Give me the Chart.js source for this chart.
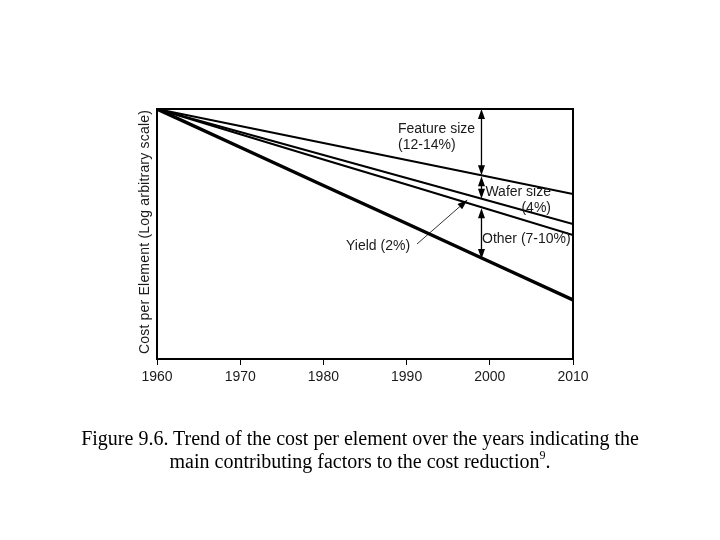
<!DOCTYPE html>
<html>
<head>
<meta charset="utf-8">
<script src="https://cdn.jsdelivr.net/npm/chart.js@4/dist/chart.umd.min.js"></script>
<style>
  html, body { margin: 0; padding: 0; background: #fff; }
  #wrap { position: relative; width: 720px; height: 540px; }
  #c { position: absolute; left: 0; top: 0; }
  .cap { position: absolute; left: 0; width: 720px; text-align: center;
         font-family: "Liberation Serif", "Times New Roman", serif; font-size: 20px; color: #000; }
  .cap sup { font-size: 12px; vertical-align: top; position: relative; top: -2px; }
</style>
</head>
<body>
<div id="wrap">
  <canvas id="c" width="720" height="540"></canvas>
  <div class="cap" style="top:427px;">Figure 9.6. Trend of the cost per element over the years indicating the</div>
  <div class="cap" style="top:450px;">main contributing factors to the cost reduction<sup>9</sup>.</div>
</div>
<script>
// Data (arbitrary log-scale units, 100 = 1960 level)
const years = [1960, 1970, 1980, 1990, 2000, 2010];
const featureSize = [100, 93.2, 86.4, 79.6, 72.8, 66];
const featureWafer = [100, 90.8, 81.6, 72.4, 63.2, 54];
const featureWaferYield = [100, 89.9, 79.8, 69.8, 59.7, 49.6];
const allFactors = [100, 84.7, 69.4, 54.2, 38.9, 23.6];
const xTicks = [1960, 1970, 1980, 1990, 2000, 2010];
const yTitle = "Cost per Element (Log arbitrary scale)";

function pts(arr) { return years.map((y, i) => ({ x: y, y: arr[i] })); }
function valAt(arr, yr) {
  for (let i = 0; i < years.length - 1; i++) {
    if (yr >= years[i] && yr <= years[i + 1]) {
      const t = (yr - years[i]) / (years[i + 1] - years[i]);
      return arr[i] + t * (arr[i + 1] - arr[i]);
    }
  }
  return arr[arr.length - 1];
}

const FONT = '"Liberation Sans", Arial, sans-serif';
const TXT = '#1a1a1a';

function arrowHead(ctx, x, y, angle, len, w) {
  ctx.save();
  ctx.translate(x, y);
  ctx.rotate(angle);
  ctx.beginPath();
  ctx.moveTo(0, 0);
  ctx.lineTo(-len, -w);
  ctx.lineTo(-len, w);
  ctx.closePath();
  ctx.fill();
  ctx.restore();
}
function dblArrow(ctx, x, y1, y2) {
  ctx.beginPath();
  ctx.moveTo(x, y1 + 4);
  ctx.lineTo(x, y2 - 4);
  ctx.stroke();
  arrowHead(ctx, x, y1, -Math.PI / 2, 10, 3.5);
  arrowHead(ctx, x, y2, Math.PI / 2, 10, 3.5);
}

const annot = {
  id: 'annot',
  afterDatasetsDraw(chart) {
    const { ctx, chartArea: a, scales: { x, y } } = chart;
    ctx.save();
    // frame
    ctx.strokeStyle = '#000';
    ctx.lineWidth = 2;
    ctx.strokeRect(a.left, a.top, a.right - a.left, a.bottom - a.top);

    // arrows at 1999
    const ax = x.getPixelForValue(1999);
    ctx.fillStyle = '#000';
    ctx.lineWidth = 1.3;
    dblArrow(ctx, ax, a.top, y.getPixelForValue(valAt(featureSize, 1999)));
    dblArrow(ctx, ax, y.getPixelForValue(valAt(featureSize, 1999)) + 1, y.getPixelForValue(valAt(featureWafer, 1999)));
    dblArrow(ctx, ax, y.getPixelForValue(valAt(featureWaferYield, 1999)) + 1, y.getPixelForValue(valAt(allFactors, 1999)) + 1);

    // yield pointer
    const x1 = x.getPixelForValue(1991.25), y1 = y.getPixelForValue(46);
    const x2 = x.getPixelForValue(1997.3), y2 = y.getPixelForValue(63.6);
    ctx.lineWidth = 0.8;
    ctx.beginPath();
    ctx.moveTo(x1, y1);
    ctx.lineTo(x2, y2);
    ctx.stroke();
    arrowHead(ctx, x2, y2, Math.atan2(y2 - y1, x2 - x1), 10, 3.5);

    // labels
    ctx.fillStyle = TXT;
    ctx.font = '14px ' + FONT;
    ctx.textBaseline = 'middle';
    ctx.textAlign = 'left';
    ctx.fillText('Feature size', 398, 129);
    ctx.fillText('(12-14%)', 398, 145);
    ctx.textAlign = 'right';
    ctx.fillText('Wafer size', 551, 192);
    ctx.fillText('(4%)', 551, 208);
    ctx.textAlign = 'left';
    ctx.fillText('Other (7-10%)', 482, 239);
    ctx.fillText('Yield (2%)', 346, 246);

    // y title
    ctx.save();
    ctx.translate(145, (a.top + a.bottom) / 2 - 2);
    ctx.rotate(-Math.PI / 2);
    ctx.textAlign = 'center';
    ctx.letterSpacing = '0.2px';
    ctx.fillText(yTitle, 0, 0);
    ctx.restore();
    ctx.restore();
  }
};

new Chart(document.getElementById('c'), {
  type: 'line',
  data: {
    datasets: [
      { data: pts(featureSize), borderColor: '#000', borderWidth: 2 },
      { data: pts(featureWafer), borderColor: '#000', borderWidth: 2 },
      { data: pts(featureWaferYield), borderColor: '#000', borderWidth: 2 },
      { data: pts(allFactors), borderColor: '#000', borderWidth: 3.5 }
    ]
  },
  options: {
    responsive: false,
    animation: false,
    devicePixelRatio: 1,
    elements: { point: { radius: 0 }, line: { tension: 0 } },
    layout: { padding: { left: 147, right: 147, top: 109, bottom: 156 } },
    plugins: { legend: { display: false }, tooltip: { enabled: false } },
    scales: {
      x: {
        type: 'linear', min: 1960, max: 2010,
        afterBuildTicks: s => { s.ticks = xTicks.map(v => ({ value: v })); },
        afterFit: s => { s.height = 25; },
        border: { display: false },
        grid: { drawOnChartArea: false, drawTicks: true, tickLength: 6, color: '#000', lineWidth: 1 },
        ticks: { color: TXT, font: { family: FONT, size: 14 }, padding: 4, maxRotation: 0, callback: v => String(v) }
      },
      y: {
        type: 'linear', min: 0, max: 100,
        afterFit: s => { s.width = 10; },
        border: { display: false },
        grid: { display: false },
        ticks: { display: false }
      }
    }
  },
  plugins: [annot]
});
</script>
</body>
</html>
